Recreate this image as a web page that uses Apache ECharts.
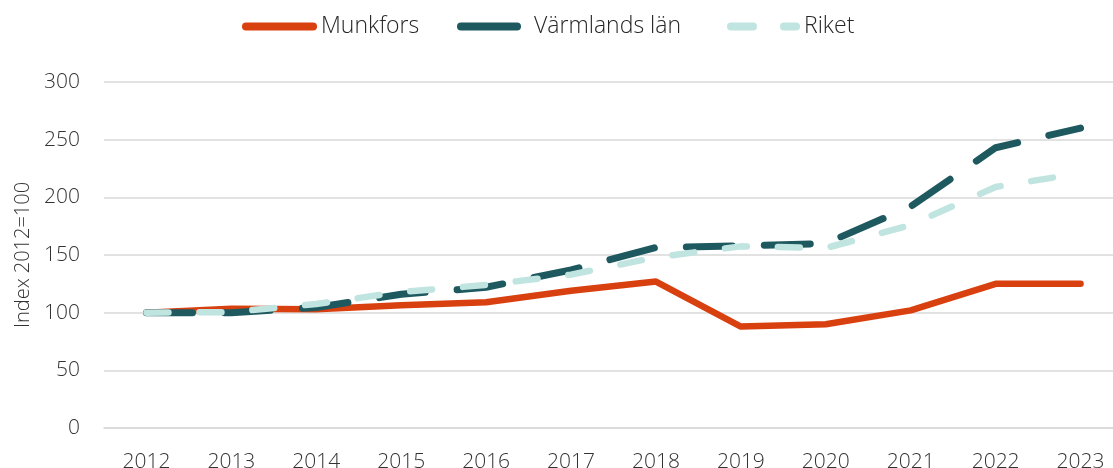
<!DOCTYPE html>
<html>
<head>
<meta charset="utf-8">
<script src="https://cdn.jsdelivr.net/npm/echarts@6/dist/echarts.min.js"></script>
<style>
  html, body { margin: 0; padding: 0; background: #fff; }
  #chart { width: 1113px; height: 468px; }
</style>
</head>
<body>
<div id="chart"></div>
<script>
const years = ["2012", "2013", "2014", "2015", "2016", "2017", "2018", "2019", "2020", "2021", "2022", "2023"];
const munkfors = [100, 103.5, 103, 106.5, 109, 119, 127, 88, 90, 102, 125, 125];
const varmland = [100, 100, 104.5, 116, 122, 137, 156.5, 158, 160, 192, 243, 260];
const riket = [100, 100.5, 107.5, 118, 124, 133, 148, 157.5, 156, 176, 209, 221];

const FONT = "Open Sans";
const chart = echarts.init(document.getElementById("chart"));

// one legend per item so each icon can sit where the original puts it
function legendItem(name, left, width, textGap, extra) {
  return {
    left: left,
    top: 15,
    padding: 0,
    itemWidth: width,
    itemHeight: 8,
    selectedMode: false,
    itemStyle: { opacity: 0 },
    lineStyle: { width: 8, cap: "round" },
    textStyle: { fontSize: 23, fontWeight: 300, color: "#262626", padding: [0, 0, 0, textGap] },
    data: [Object.assign({ name: name }, extra || {})],
  };
}

chart.setOption({
  animation: false,
  backgroundColor: "#ffffff",
  textStyle: { fontFamily: FONT },
  legend: [
    legendItem("Munkfors", 242, 67, 3),
    legendItem("Värmlands län", 457, 56, 12, { lineStyle: { type: "solid" } }),
    legendItem("Riket", 727, 65, 3),
  ],
  grid: { left: 104, right: -10, top: 82, bottom: 40, outerBoundsMode: "none" },
  xAxis: {
    type: "category",
    data: years,
    boundaryGap: true,
    axisLine: { lineStyle: { color: "#d9d9d9", width: 1.5 } },
    axisTick: { show: false },
    axisLabel: { color: "#333", fontSize: 21, fontWeight: 300, margin: 24 },
  },
  yAxis: {
    type: "value",
    min: 0,
    max: 300,
    interval: 50,
    name: "Index 2012=100",
    nameLocation: "middle",
    nameGap: 68,
    nameTextStyle: { color: "#333", fontSize: 20, fontWeight: 300 },
    axisLine: { show: false },
    axisTick: { show: false },
    axisLabel: { color: "#333", fontSize: 21, fontWeight: 300, margin: 24 },
    splitLine: { lineStyle: { color: "#d9d9d9", width: 1.5 } },
  },
  series: [
    {
      name: "Munkfors",
      type: "line",
      data: munkfors,
      symbol: "none",
      color: "#d9400f",
      lineStyle: { color: "#d9400f", width: 6.5, cap: "round", join: "round" },
    },
    {
      name: "Värmlands län",
      type: "line",
      data: varmland,
      symbol: "none",
      color: "#1f5960",
      lineStyle: { color: "#1f5960", width: 7, type: [46, 32], cap: "round", join: "round" },
    },
    {
      name: "Riket",
      type: "line",
      data: riket,
      symbol: "none",
      color: "#c0e4df",
      lineStyle: { color: "#c0e4df", width: 6.5, type: [22, 31], cap: "round", join: "round" },
    },
  ],
});
</script>
</body>
</html>
